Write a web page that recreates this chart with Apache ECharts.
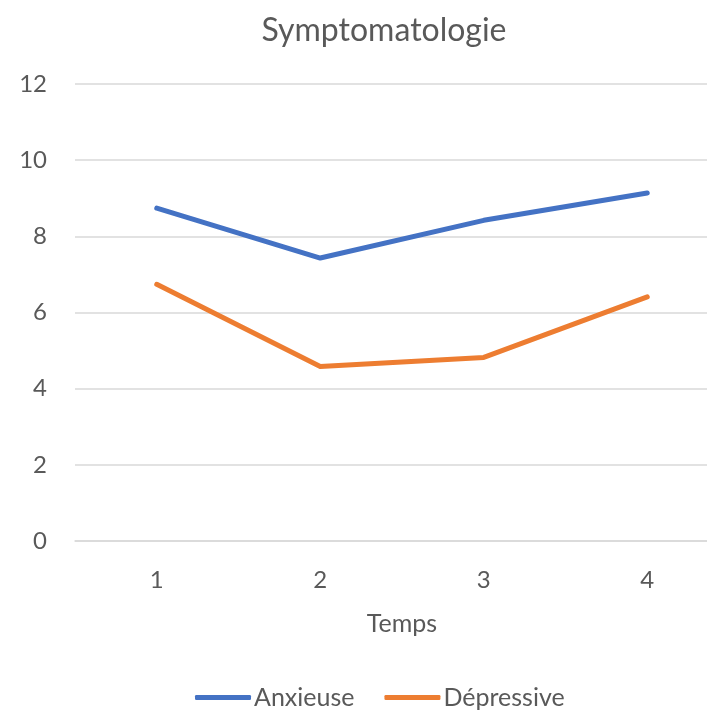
<!DOCTYPE html>
<html>
<head>
<meta charset="utf-8">
<script src="https://cdn.jsdelivr.net/npm/echarts@6/dist/echarts.min.js"></script>
<style>
  html, body { margin: 0; padding: 0; background: #fff; }
  #chart { width: 707px; height: 712px; }
</style>
</head>
<body>
<div id="chart"></div>
<script>
const categories = ['1', '2', '3', '4']
const anxieuse = [8.74, 7.43, 8.42, 9.14]
const depressive = [6.74, 4.58, 4.82, 6.41]

const font = 'Lato, "Open Sans", sans-serif'
const grey = '#595959'

const chart = echarts.init(document.getElementById('chart'))

chart.setOption({
    animation: false,
    title: {
        text: 'Symptomatologie',
        left: 379,
        top: 10,
        textAlign: 'center',
        textStyle: { fontFamily: font, fontSize: 32, fontWeight: 'normal', color: grey }
    },
    legend: {
        left: 190,
        top: 680,
        icon: 'roundRect',
        itemWidth: 56,
        itemHeight: 5,
        itemGap: 30,
        textStyle: { fontFamily: font, fontSize: 25, color: grey, padding: [0, 0, 0, -2] },
        data: ['Anxieuse', 'Dépressive']
    },
    grid: {
        left: 75,
        width: 654,
        top: 84,
        bottom: 171,
        containLabel: false,
        outerBoundsMode: 'none'
    },
    xAxis: {
        type: 'category',
        data: categories,
        boundaryGap: true,
        name: 'Temps',
        nameLocation: 'middle',
        nameGap: 70,
        nameTextStyle: { fontFamily: font, fontSize: 25, color: grey },
        axisLine: { lineStyle: { color: '#D9D9D9', width: 1.5 } },
        axisTick: { show: false },
        axisLabel: { fontFamily: font, fontSize: 24, color: grey, margin: 27 }
    },
    yAxis: {
        type: 'value',
        min: 0,
        max: 12,
        interval: 2,
        axisLine: { show: false },
        axisTick: { show: false },
        axisLabel: { fontFamily: font, fontSize: 24, color: grey, margin: 28 },
        splitLine: { lineStyle: { color: '#D9D9D9', width: 1.5 } }
    },
    series: [
        {
            name: 'Anxieuse',
            type: 'line',
            data: anxieuse,
            symbol: 'none',
            color: '#4472C4',
            lineStyle: { width: 5, cap: 'round', join: 'round' }
        },
        {
            name: 'Dépressive',
            type: 'line',
            data: depressive,
            symbol: 'none',
            color: '#ED7D31',
            lineStyle: { width: 5, cap: 'round', join: 'round' }
        }
    ]
})
</script>
</body>
</html>
